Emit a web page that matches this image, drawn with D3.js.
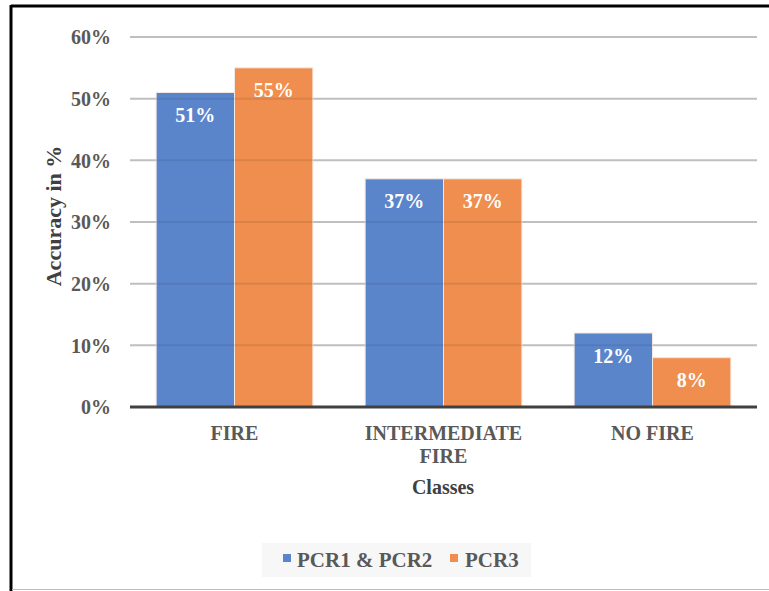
<!DOCTYPE html>
<html><head><meta charset="utf-8">
<script src="https://cdn.jsdelivr.net/npm/d3@7"></script>
<style>
body{margin:0;background:#fff;}
</style></head>
<body>
<svg id="c" width="769" height="591"></svg>
<script>
const categories = [["FIRE"], ["INTERMEDIATE", "FIRE"], ["NO FIRE"]];
const seriesNames = ["PCR1 & PCR2", "PCR3"];
const pcr12 = [0.51, 0.37, 0.12];
const pcr3 = [0.55, 0.37, 0.08];
const yTicks = [0, 0.1, 0.2, 0.3, 0.4, 0.5, 0.6];
const colors = ["#5b85cb", "#ef8e4e"];
const FONT = '"Liberation Serif", "Times New Roman", serif';

const svg = d3.select("#c");
// frame
svg.append("rect").attr("x",0).attr("y",0).attr("width",769).attr("height",591).attr("fill","#fff");
svg.append("line").attr("x1",11).attr("x2",769).attr("y1",6).attr("y2",6).attr("stroke","#000").attr("stroke-width",3);
svg.append("line").attr("x1",11).attr("x2",11).attr("y1",5).attr("y2",591).attr("stroke","#000").attr("stroke-width",3);
svg.append("line").attr("x1",12).attr("x2",769).attr("y1",589.5).attr("y2",589.5).attr("stroke","#bdbdbd").attr("stroke-width",1);

const keys = categories.map(c => c.join(" "));
const x0 = d3.scaleBand().domain(keys).range([130, 757]).paddingInner(0.25).paddingOuter(0.125);
const x1 = d3.scaleBand().domain(seriesNames).range([0, x0.bandwidth()]);
const y = d3.scaleLinear().domain([0, 0.6]).range([407, 37]);

// gridlines
svg.append("g").selectAll("line").data(yTicks.slice(1)).join("line")
  .attr("x1",130).attr("x2",757).attr("y1",d=>y(d)).attr("y2",d=>y(d))
  .attr("stroke","#d0d0d0").attr("stroke-width",2);

const data = keys.map((k,i)=>({k, vals:[pcr12[i], pcr3[i]]}));
const g = svg.append("g");
data.forEach(d=>{
  d.vals.forEach((v,j)=>{
    const bx = x0(d.k)+x1(seriesNames[j]);
    g.append("rect").attr("x",bx).attr("y",y(v)).attr("width",x1.bandwidth()).attr("height",y(0)-y(v))
      .attr("fill",colors[j]).attr("stroke","#f3e8e0").attr("stroke-width",1);
    g.append("text").attr("x",bx+x1.bandwidth()/2).attr("y",y(v)+29.5).attr("text-anchor","middle")
      .attr("fill","#fff").style("font-family",FONT).style("font-weight","bold").style("font-size","20px")
      .text(d3.format(".0%")(v));
  });
});

// gridlines faintly over bars
svg.append("g").selectAll("line").data(yTicks.slice(1)).join("line")
  .attr("x1",130).attr("x2",757).attr("y1",d=>y(d)).attr("y2",d=>y(d))
  .attr("stroke","#000").attr("stroke-opacity",0.08).attr("stroke-width",2);

// baseline axis
svg.append("line").attr("x1",130).attr("x2",757).attr("y1",y(0)).attr("y2",y(0)).attr("stroke","#404040").attr("stroke-width",3);

// y tick labels
const yAxis = d3.axisLeft(y).tickValues(yTicks).tickFormat(d3.format(".0%")).tickSize(0).tickPadding(0);
const ya = svg.append("g").attr("transform","translate(111,0)").call(yAxis);
ya.select(".domain").remove();
ya.selectAll("text").attr("fill","#595959").attr("dy","0.34em")
  .style("font-family",FONT).style("font-weight","bold").style("font-size","20px");

// x labels
const xa = svg.append("g");
data.forEach((d,i)=>{
  const cx = x0(d.k)+x0.bandwidth()/2;
  const t = xa.append("text").attr("x",cx).attr("y",440).attr("text-anchor","middle")
    .attr("fill","#595959").style("font-family",FONT).style("font-weight","bold").style("font-size","20px");
  categories[i].forEach((line,li)=>{
    t.append("tspan").attr("x",cx).attr("dy",li===0?0:23).text(line);
  });
});

// axis titles
svg.append("text").attr("x",443).attr("y",494).attr("text-anchor","middle").attr("fill","#404040")
  .style("font-family",FONT).style("font-weight","bold").style("font-size","20px").text("Classes");
svg.append("text").attr("transform","translate(61,216) rotate(-90)").attr("text-anchor","middle").attr("fill","#404040")
  .style("font-family",FONT).style("font-weight","bold").style("font-size","22px").text("Accuracy in %");

// legend
const lg = svg.append("g");
lg.append("rect").attr("x",262).attr("y",543).attr("width",269).attr("height",34).attr("fill","#f7f7f7");
const legendItems = [{n:seriesNames[0], sx:283, tx:297},{n:seriesNames[1], sx:450, tx:465}];
legendItems.forEach((it,j)=>{
  lg.append("rect").attr("x",it.sx).attr("y",554).attr("width",8).attr("height",8).attr("fill",colors[j]);
  lg.append("text").attr("x",it.tx).attr("y",567).attr("fill","#595959")
    .style("font-family",FONT).style("font-weight","bold").style("font-size","21px").text(it.n);
});
</script>
</body></html>
